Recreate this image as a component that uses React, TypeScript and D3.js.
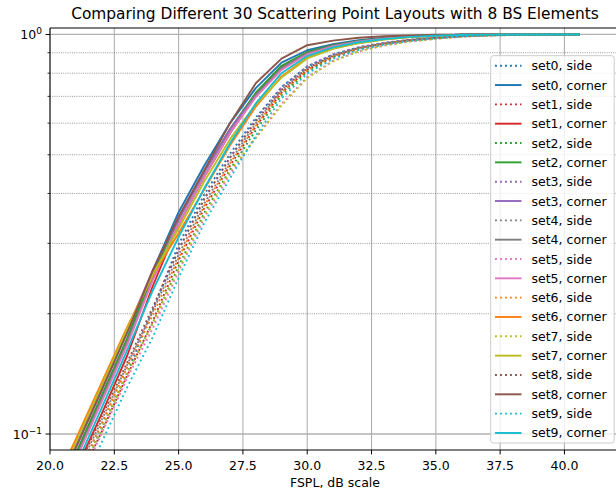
import React, { useRef, useEffect } from 'react';
import * as d3 from 'd3';

// FSPL sample points (dB)
const fsplValues = [20, 21, 22, 23, 24, 25, 26, 27, 28, 29, 30, 31, 32, 33, 34, 35, 36, 37, 38, 39, 40, 40.6];

// CDF values per layout, "side" placement
const set0Side = [0.055, 0.075, 0.103, 0.142, 0.205, 0.298, 0.398, 0.503, 0.619, 0.738, 0.832, 0.891, 0.929, 0.953, 0.97, 0.982, 0.991, 0.996, 0.998, 1, 1, 1];
const set1Side = [0.054, 0.074, 0.101, 0.14, 0.192, 0.272, 0.368, 0.47, 0.588, 0.715, 0.815, 0.88, 0.922, 0.948, 0.967, 0.98, 0.99, 0.995, 0.998, 1, 1, 1];
const set2Side = [0.055, 0.075, 0.103, 0.142, 0.19, 0.263, 0.358, 0.459, 0.576, 0.704, 0.807, 0.875, 0.919, 0.946, 0.965, 0.979, 0.989, 0.995, 0.998, 1, 1, 1];
const set3Side = [0.057, 0.077, 0.106, 0.147, 0.205, 0.289, 0.388, 0.492, 0.612, 0.738, 0.832, 0.891, 0.929, 0.953, 0.97, 0.982, 0.991, 0.996, 0.998, 1, 1, 1];
const set4Side = [0.058, 0.079, 0.108, 0.149, 0.203, 0.281, 0.378, 0.481, 0.6, 0.726, 0.823, 0.885, 0.925, 0.95, 0.969, 0.981, 0.991, 0.996, 0.998, 1, 1, 1];
const set5Side = [0.053, 0.073, 0.1, 0.138, 0.184, 0.255, 0.348, 0.448, 0.551, 0.67, 0.782, 0.859, 0.908, 0.939, 0.961, 0.976, 0.987, 0.993, 0.997, 0.999, 1, 1];
const set6Side = [0.057, 0.077, 0.106, 0.147, 0.199, 0.276, 0.373, 0.476, 0.591, 0.715, 0.815, 0.88, 0.922, 0.948, 0.967, 0.98, 0.99, 0.995, 0.998, 1, 1, 1];
const set7Side = [0.055, 0.075, 0.103, 0.142, 0.189, 0.259, 0.353, 0.454, 0.551, 0.664, 0.778, 0.856, 0.907, 0.938, 0.96, 0.975, 0.987, 0.993, 0.997, 0.999, 1, 1];
const set8Side = [0.059, 0.08, 0.11, 0.151, 0.208, 0.289, 0.388, 0.492, 0.606, 0.726, 0.823, 0.885, 0.925, 0.95, 0.969, 0.981, 0.991, 0.996, 0.998, 1, 1, 1];
const set9Side = [0.051, 0.069, 0.095, 0.131, 0.175, 0.246, 0.338, 0.437, 0.558, 0.692, 0.798, 0.869, 0.915, 0.943, 0.964, 0.978, 0.989, 0.994, 0.997, 0.999, 1, 1];

// CDF values per layout, "corner" placement
const set0Corner = [0.064, 0.089, 0.124, 0.173, 0.257, 0.359, 0.47, 0.6, 0.734, 0.85, 0.913, 0.946, 0.967, 0.981, 0.99, 0.995, 0.998, 0.999, 1, 1, 1, 1];
const set1Corner = [0.058, 0.081, 0.112, 0.157, 0.235, 0.335, 0.441, 0.567, 0.706, 0.83, 0.901, 0.939, 0.962, 0.978, 0.989, 0.995, 0.998, 1, 1, 1, 1, 1];
const set2Corner = [0.064, 0.089, 0.124, 0.173, 0.251, 0.345, 0.453, 0.58, 0.715, 0.835, 0.904, 0.94, 0.963, 0.979, 0.989, 0.995, 0.998, 1, 1, 1, 1, 1];
const set3Corner = [0.067, 0.094, 0.13, 0.182, 0.257, 0.345, 0.453, 0.58, 0.706, 0.82, 0.895, 0.935, 0.96, 0.977, 0.988, 0.994, 0.998, 0.999, 1, 1, 1, 1];
const set4Corner = [0.063, 0.087, 0.122, 0.17, 0.245, 0.335, 0.441, 0.567, 0.703, 0.825, 0.898, 0.937, 0.961, 0.978, 0.988, 0.995, 0.998, 1, 1, 1, 1, 1];
const set5Corner = [0.062, 0.086, 0.12, 0.167, 0.243, 0.335, 0.441, 0.567, 0.697, 0.815, 0.892, 0.933, 0.959, 0.976, 0.987, 0.994, 0.997, 0.999, 1, 1, 1, 1];
const set6Corner = [0.07, 0.097, 0.134, 0.185, 0.25, 0.318, 0.41, 0.528, 0.66, 0.785, 0.874, 0.923, 0.952, 0.972, 0.985, 0.992, 0.996, 0.998, 0.999, 1, 1, 1];
const set7Corner = [0.068, 0.095, 0.132, 0.183, 0.251, 0.327, 0.429, 0.547, 0.669, 0.78, 0.871, 0.921, 0.951, 0.971, 0.985, 0.992, 0.996, 0.998, 0.999, 1, 1, 1];
const set8Corner = [0.066, 0.092, 0.128, 0.179, 0.257, 0.35, 0.458, 0.6, 0.755, 0.87, 0.94, 0.965, 0.981, 0.99, 0.995, 0.998, 0.999, 1, 1, 1, 1, 1];
const set9Corner = [0.06, 0.083, 0.116, 0.162, 0.229, 0.311, 0.412, 0.534, 0.672, 0.8, 0.883, 0.928, 0.956, 0.974, 0.986, 0.993, 0.997, 0.999, 1, 1, 1, 1];

const sideSeries = [set0Side, set1Side, set2Side, set3Side, set4Side, set5Side, set6Side, set7Side, set8Side, set9Side];
const cornerSeries = [set0Corner, set1Corner, set2Corner, set3Corner, set4Corner, set5Corner, set6Corner, set7Corner, set8Corner, set9Corner];
const setNames = ['set0', 'set1', 'set2', 'set3', 'set4', 'set5', 'set6', 'set7', 'set8', 'set9'];
const setColors = ['#1f77b4', '#d62728', '#2ca02c', '#9467bd', '#7f7f7f', '#e377c2', '#ff7f0e', '#bcbd22', '#8c564b', '#17becf'];

const xTicks = [20, 22.5, 25, 27.5, 30, 32.5, 35, 37.5, 40];
const yMajorTicks = [1, 0.1];
const yMinorTicks = [0.2, 0.3, 0.4, 0.5, 0.6, 0.7, 0.8, 0.9];

const WIDTH = 616;
const HEIGHT = 492;
const FONT = '"DejaVu Sans", sans-serif';

const App = () => {
  const svgRef = useRef<SVGSVGElement>(null);

  useEffect(() => {
    if (!svgRef.current) return;
    const svg = d3.select(svgRef.current);
    svg.selectAll('*').remove();

    const plot = { left: 50, right: 620, top: 28, bottom: 450 };

    const x = d3.scaleLinear().domain([20, 42.16]).range([plot.left, plot.right]);
    const y = d3.scaleLog().domain([0.0912, 1.038]).range([plot.bottom, plot.top]);

    svg.append('rect').attr('width', WIDTH).attr('height', HEIGHT).attr('fill', '#fff');

    svg.append('defs').append('clipPath').attr('id', 'plot-clip')
      .append('rect')
      .attr('x', plot.left)
      .attr('y', plot.top)
      .attr('width', plot.right - plot.left)
      .attr('height', plot.bottom - plot.top);

    // grid: major solid, minor dotted
    const grid = svg.append('g');
    grid.selectAll('.vgrid')
      .data(xTicks)
      .enter()
      .append('line')
      .attr('x1', d => x(d)).attr('x2', d => x(d))
      .attr('y1', plot.top).attr('y2', plot.bottom)
      .attr('stroke', '#b0b0b0')
      .attr('stroke-width', 1.1);
    grid.selectAll('.hgrid')
      .data(yMajorTicks)
      .enter()
      .append('line')
      .attr('x1', plot.left).attr('x2', plot.right)
      .attr('y1', d => y(d)).attr('y2', d => y(d))
      .attr('stroke', '#b0b0b0')
      .attr('stroke-width', 1.3);
    grid.selectAll('.mgrid')
      .data(yMinorTicks)
      .enter()
      .append('line')
      .attr('x1', plot.left).attr('x2', plot.right)
      .attr('y1', d => y(d)).attr('y2', d => y(d))
      .attr('stroke', '#808080')
      .attr('stroke-width', 0.8)
      .attr('stroke-dasharray', '1,1.2');

    // curves
    const line = d3.line<number>()
      .x((_, i) => x(fsplValues[i]))
      .y(d => y(d));

    const curves = svg.append('g').attr('clip-path', 'url(#plot-clip)');
    setNames.forEach((_, i) => {
      curves.append('path')
        .datum(sideSeries[i])
        .attr('fill', 'none')
        .attr('stroke', setColors[i])
        .attr('stroke-width', 1.9)
        .attr('stroke-dasharray', '1.9,3.1')
        .attr('d', line);
      curves.append('path')
        .datum(cornerSeries[i])
        .attr('fill', 'none')
        .attr('stroke', setColors[i])
        .attr('stroke-width', 1.9)
        .attr('stroke-linejoin', 'round')
        .attr('d', line);
    });

    // spines
    svg.append('line')
      .attr('x1', plot.left).attr('x2', plot.left)
      .attr('y1', plot.top).attr('y2', plot.bottom)
      .attr('stroke', '#000').attr('stroke-width', 1);
    svg.append('line')
      .attr('x1', plot.left).attr('x2', plot.right)
      .attr('y1', plot.bottom).attr('y2', plot.bottom)
      .attr('stroke', '#000').attr('stroke-width', 1);
    svg.append('line')
      .attr('x1', plot.left).attr('x2', plot.right)
      .attr('y1', plot.top).attr('y2', plot.top)
      .attr('stroke', '#000').attr('stroke-width', 1);

    // x axis ticks and labels
    const xAxis = svg.append('g');
    xTicks.forEach(t => {
      xAxis.append('line')
        .attr('x1', x(t)).attr('x2', x(t))
        .attr('y1', plot.bottom).attr('y2', plot.bottom + 4.4)
        .attr('stroke', '#000');
      xAxis.append('text')
        .attr('x', x(t))
        .attr('y', plot.bottom + 19.5)
        .attr('text-anchor', 'middle')
        .attr('font-family', FONT)
        .attr('font-size', 12.5)
        .attr('fill', '#000')
        .text(t.toFixed(1));
    });

    // y axis ticks and labels (log scale)
    const yAxis = svg.append('g');
    yMajorTicks.forEach(t => {
      yAxis.append('line')
        .attr('x1', plot.left - 4.4).attr('x2', plot.left)
        .attr('y1', y(t)).attr('y2', y(t))
        .attr('stroke', '#000');
      const label = yAxis.append('text')
        .attr('x', plot.left - 8)
        .attr('y', y(t) + 5)
        .attr('text-anchor', 'end')
        .attr('font-family', FONT)
        .attr('font-size', 12.5)
        .attr('fill', '#000');
      label.append('tspan').text('10');
      label.append('tspan')
        .attr('font-size', 9)
        .attr('dy', -5.5)
        .text(t === 1 ? '0' : '\u22121');
    });
    yMinorTicks.forEach(t => {
      yAxis.append('line')
        .attr('x1', plot.left - 2.5).attr('x2', plot.left)
        .attr('y1', y(t)).attr('y2', y(t))
        .attr('stroke', '#000')
        .attr('stroke-width', 0.8);
    });

    // titles
    svg.append('text')
      .attr('x', (plot.left + plot.right) / 2)
      .attr('y', 19)
      .attr('text-anchor', 'middle')
      .attr('font-family', FONT)
      .attr('font-size', 15.4)
      .attr('fill', '#000')
      .text('Comparing Different 30 Scattering Point Layouts with 8 BS Elements');
    svg.append('text')
      .attr('x', (plot.left + plot.right) / 2)
      .attr('y', 487)
      .attr('text-anchor', 'middle')
      .attr('font-family', FONT)
      .attr('font-size', 12.5)
      .attr('fill', '#000')
      .text('FSPL, dB scale');

    // legend (lower right)
    const legend = svg.append('g');
    legend.append('rect')
      .attr('x', 490.7).attr('y', 55.7)
      .attr('width', 123.5).attr('height', 387.3)
      .attr('rx', 2.5)
      .attr('fill', '#fff').attr('fill-opacity', 0.8)
      .attr('stroke', '#cccccc').attr('stroke-width', 1);

    const rowGap = 19.33;
    setNames.forEach((name, i) => {
      [
        { label: `${name}, side`, dashed: true },
        { label: `${name}, corner`, dashed: false }
      ].forEach((entry, j) => {
        const cy = 65.7 + (i * 2 + j) * rowGap;
        legend.append('line')
          .attr('x1', 495).attr('x2', 521.5)
          .attr('y1', cy).attr('y2', cy)
          .attr('stroke', setColors[i])
          .attr('stroke-width', 1.9)
          .attr('stroke-dasharray', entry.dashed ? '1.9,3.1' : null);
        legend.append('text')
          .attr('x', 531.5)
          .attr('y', cy + 4.5)
          .attr('font-family', FONT)
          .attr('font-size', 12.5)
          .attr('fill', '#000')
          .text(entry.label);
      });
    });
  }, []);

  return (
    <svg
      ref={svgRef}
      width={WIDTH}
      height={HEIGHT}
      style={{ position: 'absolute', left: 0, top: 0 }}
    ></svg>
  );
};

export default App;
